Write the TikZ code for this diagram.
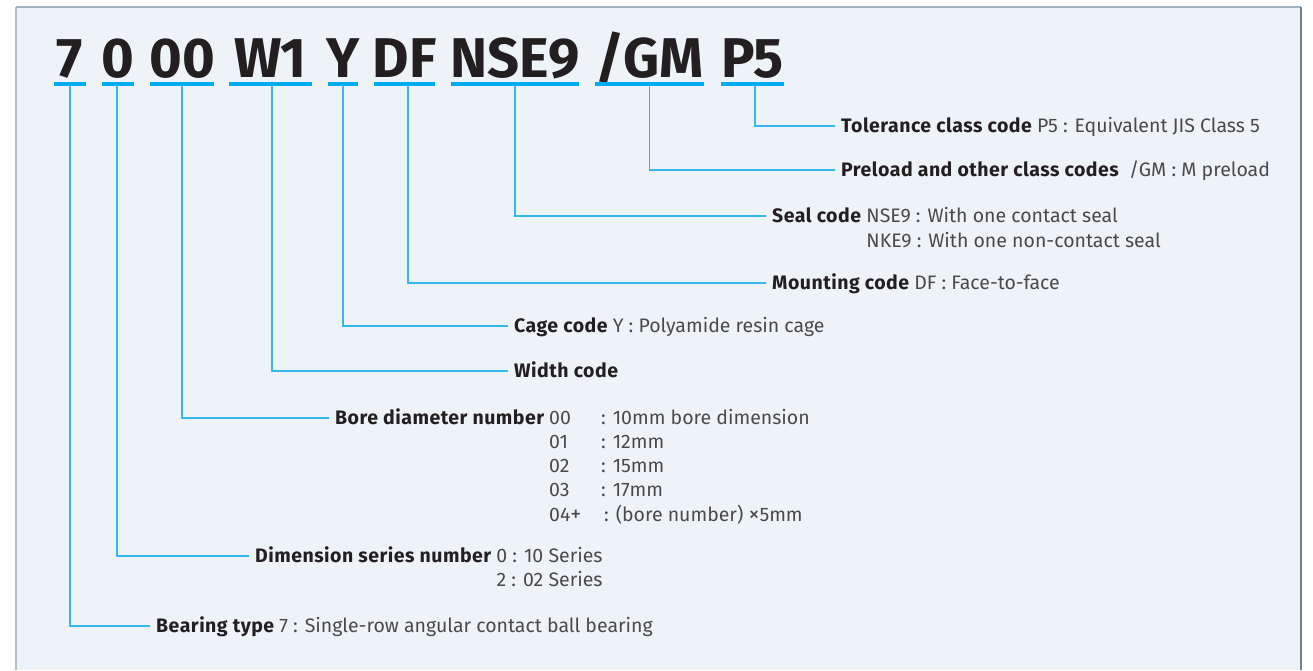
\documentclass[tikz,border=0pt]{standalone}
\usepackage{fontspec}
\setmainfont{Fira Sans}
\usetikzlibrary{positioning}
\definecolor{bgc}{HTML}{EDF3F6}
\definecolor{topc}{HTML}{A3B2BF}
\definecolor{leftc}{HTML}{B4C0CA}
\definecolor{rightc}{HTML}{6E8391}
\definecolor{cyanu}{HTML}{00AEEF}
\definecolor{connc}{HTML}{33B9EE}
\definecolor{darkc}{HTML}{231F20}
\definecolor{txtc}{HTML}{4A4A4A}
\newcommand\blab[1]{{\bfseries\addfontfeatures{LetterSpace=2.5}\color{darkc}#1}}
\begin{document}
\begin{tikzpicture}[x=1pt,y=-1pt,
  big/.style={anchor=base, inner sep=0pt, font=\fontsize{56}{60}\selectfont\bfseries, text=darkc},
  uline/.style={fill=cyanu, draw=none, inner sep=0pt, minimum height=3.2pt},
  conn/.style={draw=connc, line width=1.3pt, shorten >=6pt},
  lbl/.style={inner sep=0pt, anchor=west, text height=13pt, text depth=0pt, font=\fontsize{19.5}{22}\selectfont, text=txtc}]
\useasboundingbox (0,0) rectangle (1313,670);
\fill[bgc] (16,7) rectangle (1301,670);
\draw[leftc, line width=1.6pt] (16,7) -- (16,670);
\draw[topc, line width=1.6pt] (16,7) -- (1301,7);
\draw[rightc, line width=1.6pt] (1301,7) -- (1301,670);

% code characters
\node[big] (t7)  at (70,77) {7};
\node[big] (t0)  at (118,77) {0};
\node[big] (t00) at (182,77) {00};
\node[big] (tW)  at (270.5,77) {W1};
\node[big] (tY)  at (343,77) {Y};
\node[big] (tDF) at (404.5,77) {DF};
\node[big] (tNS) at (515,77) {NSE9};
\node[big] (tGM) at (649.5,77) {/GM};
\node[big] (tP)  at (752.5,77) {P5};

% underlines
\node[uline, minimum width=32pt]  (u7)  at (70,84) {};
\node[uline, minimum width=32pt]  (u0)  at (118,84) {};
\node[uline, minimum width=64pt]  (u00) at (182,84) {};
\node[uline, minimum width=83pt]  (uW)  at (270.5,84) {};
\node[uline, minimum width=30pt]  (uY)  at (343,84) {};
\node[uline, minimum width=61pt]  (uDF) at (404.5,84) {};
\node[uline, minimum width=128pt] (uNS) at (515,84) {};
\node[uline, minimum width=109pt] (uGM) at (649.5,84) {};
\node[uline, minimum width=63pt]  (uP)  at (752.5,84) {};

% labels
\node[lbl] (tol) at (841,126) {\blab{Tolerance class code} P5 : Equivalent JIS Class 5};
\node[lbl] (pre) at (841,170) {\blab{Preload and other class codes}\ \ /GM : M preload};
\node[lbl] (seal) at (772,216) {\blab{Seal code}};
\node[lbl, right=5pt of seal] (seal1) {NSE9 : With one contact seal};
\node[lbl] (seal2) at ([yshift=-25pt]seal1.west) {NKE9 : With one non-contact seal};
\node[lbl] (mnt) at (772,283) {\blab{Mounting code} DF : Face-to-face};
\node[lbl] (cage) at (514,326) {\blab{Cage code} Y : Polyamide resin cage};
\node[lbl] (wid) at (514,371) {\blab{Width code}};

\node[lbl] (bore) at (335,418) {\blab{Bore diameter number}};
\node[lbl] (b1) at (549,418) {00};
\node[lbl] (b2) at (549,442) {01};
\node[lbl] (b3) at (549,466) {02};
\node[lbl] (b4) at (549,490) {03};
\node[lbl] (b5) at (549,515) {04\raisebox{0.5pt}{\fontsize{22}{22}\selectfont +}};
\node[lbl] (c1) at (601,418) {: 10mm bore dimension};
\node[lbl] (c2) at (601,442) {: 12mm};
\node[lbl] (c3) at (601,466) {: 15mm};
\node[lbl] (c4) at (601,490) {: 17mm};
\node[lbl] (c5) at (604,515) {: (bore number) \raisebox{0.5pt}{\fontsize{22}{22}\selectfont ×}5mm};

\node[lbl] (dim) at (255,556) {\blab{Dimension series number} 0 : 10 Series};
\node[lbl, anchor=east] (dim2) at ([yshift=-24pt]dim.east) {2 : 02 Series};
\node[lbl] (bt) at (156,626) {\blab{Bearing type} 7 : Single-row angular contact ball bearing};

% connectors
\draw[conn] ([xshift=2.5pt]uP.south) |- (tol.west);
\draw[conn] (uGM.south) |- (pre.west);
\draw[conn] (uNS.south) |- (seal.west);
\draw[conn] ([xshift=3.5pt]uDF.south) |- (mnt.west);
\draw[conn] (uY.south) |- (cage.west);
\draw[conn] ([xshift=1.5pt]uW.south) |- (wid.west);
\draw[conn] (u00.south) |- (bore.west);
\draw[conn] ([xshift=-1pt]u0.south) |- (dim.west);
\draw[conn] (u7.south) |- (bt.west);
\end{tikzpicture}
\end{document}
